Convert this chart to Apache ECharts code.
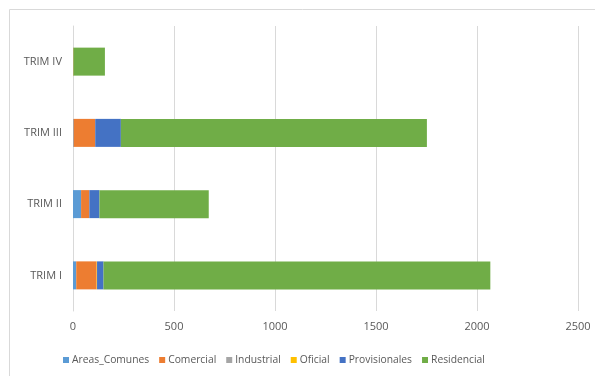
<!DOCTYPE html>
<html>
<head>
<meta charset="utf-8">
<script src="https://cdn.jsdelivr.net/npm/echarts@6/dist/echarts.min.js"></script>
<style>html,body{margin:0;padding:0;background:#fff;}#c{width:595px;height:376px;}</style>
</head>
<body>
<div id="c"></div>
<script>
const categories = ['TRIM I', 'TRIM II', 'TRIM III', 'TRIM IV'];
const seriesNames = ['Areas_Comunes', 'Comercial', 'Industrial', 'Oficial', 'Provisionales', 'Residencial'];
const areasComunes = [16, 40, 3, 0];
const comercial = [101, 41, 107, 2];
const industrial = [0, 0, 0, 0];
const oficial = [2, 0, 0, 0];
const provisionales = [32, 50, 127, 0];
const residencial = [1915, 541, 1515, 156];
const xTicks = [0, 500, 1000, 1500, 2000, 2500];

const colors = ['#5B9BD5', '#ED7D31', '#A5A5A5', '#FFC000', '#4472C4', '#70AD47'];
const values = [areasComunes, comercial, industrial, oficial, provisionales, residencial];
const font = 'Open Sans, Liberation Sans, sans-serif';

const chart = echarts.init(document.getElementById('c'), null, {renderer: 'canvas'});
chart.setOption({
  animation: false,
  color: colors,
  graphic: [{
    type: 'rect', shape: {x: 9.5, y: 9.5, width: 600, height: 380},
    style: {fill: 'none', stroke: '#d9d9d9', lineWidth: 1}, silent: true, z: -10
  }],
  grid: {left: 73, right: 17, top: 26, bottom: 65, containLabel: false},
  legend: {
    data: seriesNames, bottom: 6, left: 58, itemWidth: 6, itemHeight: 6, itemGap: 10,
    icon: 'rect',
    textStyle: {color: '#595959', fontSize: 10.3, fontFamily: font, padding: [0, 0, 0, -2]}
  },
  xAxis: {
    type: 'value', min: xTicks[0], max: xTicks[xTicks.length - 1], interval: 500,
    axisLine: {show: false}, axisTick: {show: false},
    axisLabel: {color: '#595959', fontSize: 11, fontFamily: font, margin: 10, formatter: v => String(v)},
    splitLine: {lineStyle: {color: '#d9d9d9', width: 1}}
  },
  yAxis: {
    type: 'category', data: categories,
    axisLine: {show: true, lineStyle: {color: '#d9d9d9'}}, axisTick: {show: false},
    axisLabel: {color: '#595959', fontSize: 11, fontFamily: font, margin: 11}
  },
  series: seriesNames.map((n, i) => ({
    name: n, type: 'bar', stack: 'total', data: values[i], barWidth: 28,
    itemStyle: {color: colors[i]}
  }))
});
</script>
</body>
</html>
